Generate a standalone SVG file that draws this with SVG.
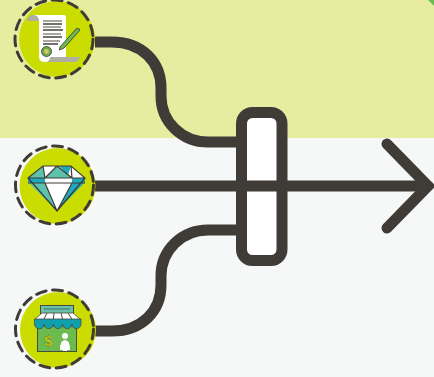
<svg xmlns="http://www.w3.org/2000/svg" width="434" height="377" viewBox="0 0 434 377">
<style>
.c{fill:none;stroke:#3f3b36;stroke-width:11}
.lime{fill:#cbdc00}
.dash{fill:none;stroke:#3f3b36;stroke-width:3;stroke-dasharray:10 6.5;stroke-linecap:round}
.ink{stroke:#3f3b36;stroke-width:1.2;fill:none}
</style>
<rect width="434" height="138" fill="#e6eda0"/>
<rect y="138" width="434" height="239" fill="#f6f8f8"/>
<path d="M428 0H434V6Q431 3 428 0Z" fill="#6cbb4e"/>
<g id="connectors">
<path class="c" d="M95 42H112C142 42 161 62 161 88V96C161 122 182 142 208 142H240"/>
<path class="c" d="M95 331H112C142 331 161 311 161 285V276C161 250 182 230 208 230H240"/>
</g>
<g id="node-bar"><rect x="241.500" y="112.500" width="40.500" height="148" rx="11" fill="#fff" stroke="#3f3b36" stroke-width="11"/></g>
<g id="arrow">
<path class="c" d="M95 186H428"/>
<path class="c" d="M387 144L428 186L387 228" stroke-linecap="round" stroke-linejoin="miter"/>
</g>
<g id="node-document">
<circle class="lime" cx="57" cy="39" r="38"/>
<circle class="dash" cx="54" cy="39" r="39"/>
<path d="M27 21C27 17 30 15 33 15H42V21Z" fill="#aeaea2"/>
<path d="M48 57H80C79 60 77 62 74 62H42Z" fill="#aeaea2"/>
<path d="M33 15H64C66 15 66 17 66 19V57H50C50 60 48 62 45 62C41 62 39 60 39 57V21C39 17 36 15 33 15Z" fill="#fff"/>
<g stroke-width="1.600">
<path d="M43 21H62M43 27H61M43 34H61M43 41H60" stroke="#8a8a80"/>
<path d="M43 24H62M43 30H63M43 37H62M43 44H58" stroke="#44443c"/>
</g>
<circle cx="46.500" cy="51.500" r="5" fill="#6cab3c" stroke="#555" stroke-width="1"/>
<circle cx="46.500" cy="51.500" r="2.400" fill="#d4c870"/>
<path d="M60 47L76 29Q79 27 80 30L64 48L59.500 50Z" fill="#6cbb4e" stroke="#4a4a40" stroke-width="1"/>
</g>
<g id="node-diamond">
<circle class="lime" cx="57.500" cy="186" r="38"/>
<circle class="dash" cx="54.500" cy="185" r="39"/>
<path d="M28 178L43 166H71L85 178L57 211Z" fill="#fff"/>
<path d="M43 166L28 178H45Z" fill="#5cc2ac"/>
<path d="M57 166L45 178H72Z" fill="#5cc2ac"/>
<path d="M59 166H71L68 175Z" fill="#1ca9bb"/>
<path d="M28 178H45V183H28ZM72 178H85V183H72Z" fill="#1ca9bb"/>
<path d="M29 183H45L57 211Z" fill="#5cc2ac"/>
<path d="M84 183H72L57 211Z" fill="#1ca9bb"/>
<path class="ink" d="M28 178L43 166H71L85 178L57 211ZM28 178H85M28 183H85M43 166L45 178M45 183L57 211M72 183L57 211M57 166L45 178M57 166L72 178M71 166L72 178"/>
</g>
<g id="node-shop">
<circle class="lime" cx="58" cy="330" r="38"/>
<circle class="dash" cx="54.500" cy="329" r="39"/>
<rect x="40.500" y="305.500" width="33" height="8" fill="#68c0a8" stroke="#4a4a40"/>
<path d="M44 309H70" stroke="#3f6f66" stroke-width="1"/>
<rect x="37.500" y="326" width="39" height="25.500" fill="#6cbb4e" stroke="#4a4a40"/>
<path d="M42 313H73L81 320H34Z" fill="#fff" stroke="#4a4a40" stroke-width=".8"/>
<path d="M34.500 319H81V324A4.600 4.600 0 0 1 71.800 324A4.600 4.600 0 0 1 62.600 324A4.600 4.600 0 0 1 53.400 324A4.600 4.600 0 0 1 44.200 324A4.800 4.800 0 0 1 34.500 324Z" fill="#0fa0ae" stroke="#4a4a40" stroke-width=".8"/>
<path d="M44 319L47 313M53.400 319L54 313M62.600 319L61 313M71.800 319L68 313" stroke="#4a4a40" stroke-width="1"/>
<text x="48.500" y="346" font-family="Liberation Sans, sans-serif" font-size="14" font-weight="bold" fill="#d8e000" stroke="#4a4a40" stroke-width=".3" text-anchor="middle">$</text>
<circle cx="65" cy="336" r="3" fill="#fff"/>
<path d="M60 350Q60 340 65 340Q70 340 70 350H67V351H63V350Z" fill="#fff"/>
</g>
</svg>
